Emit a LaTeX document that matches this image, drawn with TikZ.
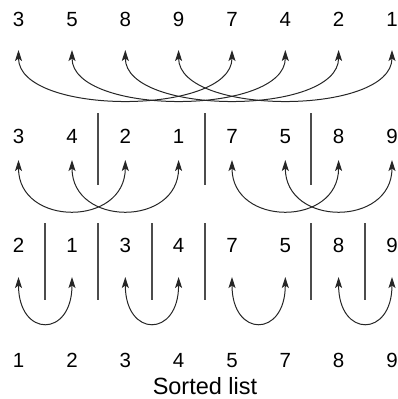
\documentclass[tikz,border=0pt]{standalone}
\usepackage{fontspec}
\setmainfont{Liberation Sans}
\usetikzlibrary{arrows.meta}
\begin{document}
\begin{tikzpicture}[x=1pt,y=-1pt,
  num/.style={anchor=base,inner sep=0pt,font=\fontsize{20.5}{20.5}\selectfont},
  caption/.style={anchor=base,inner sep=0pt,font=\fontsize{23.5}{23.5}\selectfont},
  swap/.style={{Stealth[length=11pt,width=7pt,inset=2.5pt]}-{Stealth[length=11pt,width=7pt,inset=2.5pt]},line width=1pt,black!85},
  divider/.style={line width=1.6pt,black!70}]
\useasboundingbox (0,0) rectangle (398,399);

% column positions
\foreach \i/\x in {1/18.5,2/72,3/125.3,4/178.6,5/232,6/285.3,7/338.6,8/392}
  \expandafter\xdef\csname cx\i\endcsname{\x};

% row 1: unsorted list
\foreach \i/\v in {1/3,2/5,3/8,4/9,5/7,6/4,7/2,8/1}{
  \node[num] (a\i) at (\csname cx\i\endcsname,26) {\v};
  \coordinate (ta\i) at (\csname cx\i\endcsname,50);
}
% row 2
\foreach \i/\v in {1/3,2/4,3/2,4/1,5/7,6/5,7/8,8/9}{
  \node[num] (b\i) at (\csname cx\i\endcsname,143) {\v};
  \coordinate (tb\i) at (\csname cx\i\endcsname,160);
}
% row 3
\foreach \i/\v in {1/2,2/1,3/3,4/4,5/7,6/5,7/8,8/9}{
  \node[num] (c\i) at (\csname cx\i\endcsname,252) {\v};
  \coordinate (tc\i) at (\csname cx\i\endcsname,277);
}
% sorted row
\foreach \i/\v in {1/1,2/2,3/3,4/4,5/5,6/7,7/8,8/9}{
  \node[num] (d\i) at (\csname cx\i\endcsname,367) {\v};
}
\node[caption] (cap) at (205,394) {Sorted list};

% exchanges with gap 4
\foreach \i in {1,...,4}{
  \pgfmathtruncatemacro{\j}{\i+4}
  \draw[swap] (ta\i) .. controls +(0,66) and +(0,66) .. (ta\j);
}
% exchanges with gap 2
\foreach \i/\j in {1/3,2/4,5/7,6/8}{
  \draw[swap] (tb\i) .. controls +(0,67) and +(0,67) .. (tb\j);
}
% exchanges with gap 1
\foreach \i/\j in {1/2,3/4,5/6,7/8}{
  \draw[swap] (tc\i) .. controls +(0,61) and +(0,61) .. (tc\j);
}

% sublist dividers
\foreach \x in {98,205,311}
  \draw[divider] (\x,113) -- (\x,185);
\foreach \x in {45,98,152,205,311,365}
  \draw[divider] (\x,223) -- (\x,300);
\end{tikzpicture}
\end{document}
